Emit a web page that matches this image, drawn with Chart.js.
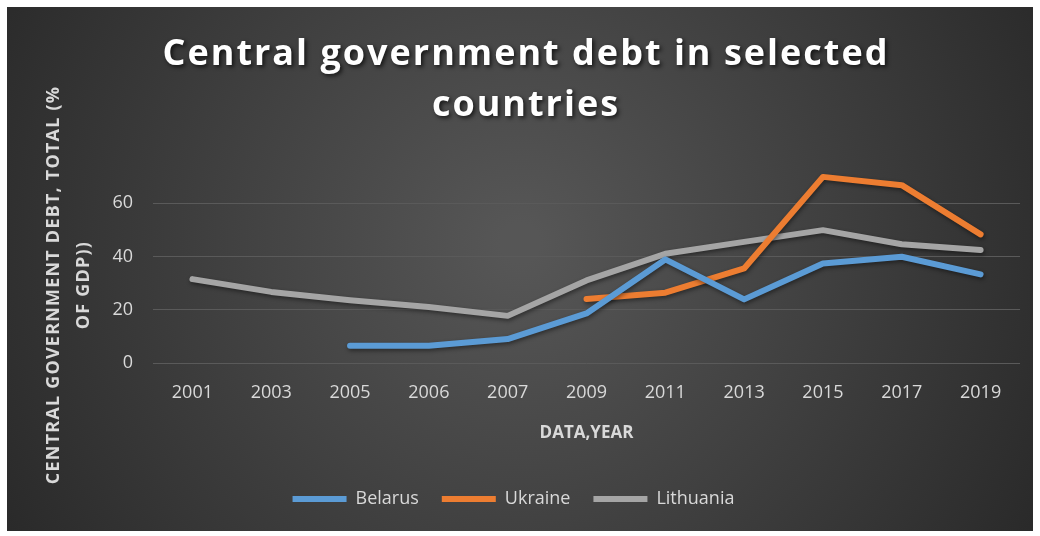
<!DOCTYPE html>
<html lang="en">
<head>
<meta charset="UTF-8">
<title>Central government debt in selected countries</title>
<script src="https://cdn.jsdelivr.net/npm/chart.js"></script>
<style>
  html, body { margin: 0; padding: 0; background: #fff; }
  #wrap { position: absolute; left: 7px; top: 7px; width: 1026px; height: 524px; }
</style>
</head>
<body>
<div id="wrap"><canvas id="chart"></canvas></div>
<script>
const years = ['2001', '2003', '2005', '2006', '2007', '2009', '2011', '2013', '2015', '2017', '2019'];
const belarus = [null, null, 6.5, 6.5, 9, 18.6, 38.9, 23.9, 37.4, 39.9, 33.3];
const ukraine = [null, null, null, null, null, 24, 26.4, 35.5, 69.9, 66.8, 48.3];
const lithuania = [31.5, 26.7, 23.6, 21, 17.7, 31, 41, 45.5, 49.9, 44.6, 42.4];
const yTicks = [0, 20, 40, 60];
const titleLines = ['Central government debt in selected', 'countries'];
const yTitleLines = ['CENTRAL GOVERNMENT DEBT, TOTAL (%', 'OF GDP))'];

// dark radial background, spaced/shadowed chart title and y title (Excel look)
const backdrop = {
  id: 'backdrop',
  beforeDraw(chart) {
    const { ctx, width, height } = chart;
    ctx.save();
    const g = ctx.createRadialGradient(width * 0.5, height * 0.45, 20, width * 0.5, height * 0.45, width * 0.62);
    g.addColorStop(0, '#565656');
    g.addColorStop(1, '#262626');
    ctx.fillStyle = g;
    ctx.fillRect(0, 0, width, height);
    ctx.restore();
  },
  afterDraw(chart) {
    const ctx = chart.ctx;
    ctx.save();
    ctx.font = 'bold 36px "Open Sans"';
    ctx.letterSpacing = '2px';
    ctx.textAlign = 'center';
    ctx.textBaseline = 'middle';
    ctx.fillStyle = '#ffffff';
    ctx.shadowColor = 'rgba(0,0,0,0.7)';
    ctx.shadowBlur = 4;
    ctx.shadowOffsetX = 2;
    ctx.shadowOffsetY = 2;
    titleLines.forEach((t, i) => ctx.fillText(t, 519, 48 + i * 51));
    ctx.restore();

    ctx.save();
    ctx.translate(0, 278);
    ctx.rotate(-Math.PI / 2);
    ctx.font = 'bold 18px "Open Sans"';
    ctx.letterSpacing = '1.2px';
    ctx.textAlign = 'center';
    ctx.textBaseline = 'middle';
    ctx.fillStyle = '#d9d9d9';
    yTitleLines.forEach((t, i) => ctx.fillText(t, 0, 47 + i * 30));
    ctx.restore();
  },
  beforeDatasetsDraw(chart) {
    const ctx = chart.ctx;
    ctx.save();
    ctx.shadowColor = 'rgba(0,0,0,0.45)';
    ctx.shadowBlur = 4;
    ctx.shadowOffsetX = 1;
    ctx.shadowOffsetY = 2;
  },
  afterDatasetsDraw(chart) {
    chart.ctx.restore();
  }
};

const ds = (label, data, color) => ({
  label, data,
  borderColor: color,
  backgroundColor: color,
  borderWidth: 6,
  borderCapStyle: 'round',
  borderJoinStyle: 'round',
  pointStyle: 'line',
  pointRadius: 0,
  pointHoverRadius: 0,
  tension: 0
});

new Chart(document.getElementById('chart'), {
  type: 'line',
  data: {
    labels: years,
    datasets: [
      ds('Belarus', belarus, '#5b9bd5'),
      ds('Ukraine', ukraine, '#ed7d31'),
      ds('Lithuania', lithuania, '#a5a5a5')
    ]
  },
  plugins: [backdrop],
  options: {
    responsive: true,
    maintainAspectRatio: false,
    animation: false,
    layout: { padding: { top: 143, right: 13, left: 0, bottom: 13 } },
    plugins: {
      tooltip: { enabled: false },
      title: { display: false },
      legend: {
        position: 'bottom',
        labels: {
          color: '#d9d9d9',
          font: { family: '"Open Sans"', size: 18 },
          usePointStyle: true,
          pointStyleWidth: 54,
          boxHeight: 6,
          padding: 23
        }
      }
    },
    scales: {
      x: {
        offset: true,
        grid: { display: false, drawTicks: false },
        border: { display: false },
        ticks: { color: '#d9d9d9', font: { family: '"Open Sans"', size: 18 }, padding: 19, maxRotation: 0 },
        title: {
          display: true,
          text: 'DATA,YEAR',
          color: '#d9d9d9',
          font: { family: '"Open Sans"', size: 17, weight: 'bold' },
          padding: { top: 0, bottom: 24 }
        }
      },
      y: {
        min: 0,
        max: 80,
        afterBuildTicks(axis) {
          axis.ticks = yTicks.map(v => ({ value: v }));
        },
        afterFit(axis) {
          axis.width = 146;
        },
        grid: { color: '#5a5a5a', lineWidth: 1, drawTicks: false },
        border: { display: false },
        ticks: { color: '#d9d9d9', font: { family: '"Open Sans"', size: 18 }, padding: 20 }
      }
    }
  }
});
</script>
</body>
</html>
